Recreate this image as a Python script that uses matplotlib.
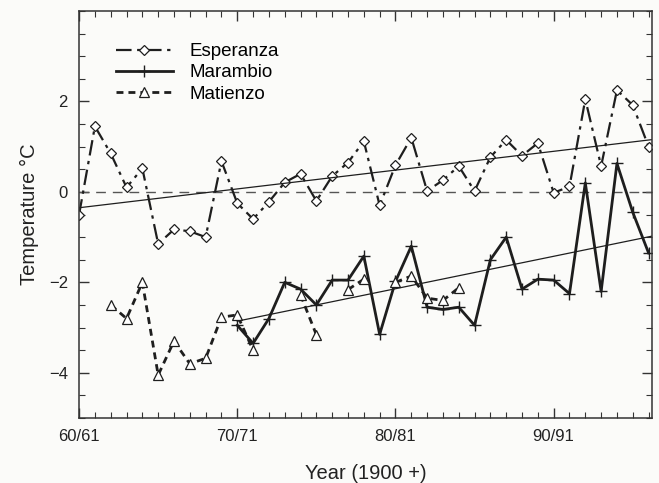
import numpy as np
import matplotlib
matplotlib.use("Agg")
import matplotlib.pyplot as plt
from matplotlib.ticker import MultipleLocator, FixedLocator

plt.rcParams['font.family'] = ['Liberation Sans', 'DejaVu Sans']

# mean temperatures, seasons 1960/61 .. 1996/97 (x = year - 1900)
esp_years = np.arange(60, 97)
esperanza = [-0.5, 1.45, 0.85, 0.1, 0.52, -1.15, -0.83, -0.87, -1.0, 0.68,
             -0.25, -0.6, -0.22, 0.21, 0.4, -0.2, 0.35, 0.65, 1.12, -0.3,
             0.59, 1.2, 0.02, 0.26, 0.57, 0.02, 0.77, 1.15, 0.8, 1.08,
             -0.02, 0.12, 2.05, 0.57, 2.25, 1.92, 1.0]

mar_years = np.arange(70, 97)
marambio = [-2.95, -3.35, -2.8, -2.0, -2.15, -2.5, -1.95, -1.95, -1.42, -3.15,
            -1.98, -1.2, -2.55, -2.6, -2.55, -2.95, -1.5, -1.0, -2.15, -1.93,
            -1.95, -2.25, 0.2, -2.2, 0.63, -0.45, -1.35]

mat_years = np.arange(62, 85)
matienzo = [-2.5, -2.8, -2.0, -4.05, -3.3, -3.8, -3.68, -2.77, -2.72, -3.5,
            np.nan, np.nan, -2.28, -3.16, np.nan, -2.16, -1.93, np.nan,
            -2.0, -1.86, -2.35, -2.4, -2.12]

xmin, xmax = 60, 96.2
ink = '#1e1e1e'

fig = plt.figure(figsize=(6.59, 4.83), dpi=100, facecolor='#fbfbf9')
ax = fig.add_axes([0.12, 0.1346, 0.869, 0.8425], facecolor='#fbfbf9')

ax.axhline(0, color='#555555', lw=1.0, dashes=(7, 5))

ax.plot(esp_years, esperanza, color=ink, lw=1.6, dashes=(7, 2.5, 1.5, 2.5),
        marker='D', ms=5.5, mfc='white', mec=ink, mew=0.9, label='Esperanza')
ax.plot(mar_years, marambio, color=ink, lw=2.0, marker='+', ms=9, mew=1.0,
        label='Marambio')
ax.plot(mat_years, matienzo, color=ink, lw=2.0, dashes=(2.5, 1.8),
        marker='^', ms=7, mfc='white', mec=ink, mew=0.9, label='Matienzo')

# linear trends
for yrs, vals in [(esp_years, esperanza), (mar_years, marambio)]:
    k, b = np.polyfit(yrs, vals, 1)
    xx = np.array([yrs[0], xmax])
    ax.plot(xx, k * xx + b, color=ink, lw=0.9)

ax.set_xlim(xmin, xmax)
ax.set_ylim(-5, 4)
ax.xaxis.set_major_locator(FixedLocator([60, 70, 80, 90]))
ax.set_xticklabels(['60/61', '70/71', '80/81', '90/91'])
ax.xaxis.set_minor_locator(MultipleLocator(1))
ax.yaxis.set_major_locator(FixedLocator([-4, -2, 0, 2]))
ax.yaxis.set_minor_locator(MultipleLocator(0.5))
ax.tick_params(which='both', direction='in', top=True, right=True,
               color='#333333', labelsize=12, labelcolor='#222222')
ax.tick_params(which='major', length=7, width=1.0, pad=8)
ax.tick_params(which='minor', length=4, width=0.8)
for s in ax.spines.values():
    s.set_color('#333333')
    s.set_linewidth(1.1)

ax.set_xlabel('Year (1900 +)', fontsize=14.5, color='#222222', labelpad=14)
ax.set_ylabel('Temperature °C', fontsize=14.5, color='#222222', labelpad=7)

ax.legend(loc='upper left', bbox_to_anchor=(0.052, 0.94), borderaxespad=0,
          frameon=False, fontsize=13.5, handlelength=3.0, handletextpad=0.9,
          labelspacing=0.22)

fig.savefig('out.png', dpi=100, facecolor=fig.get_facecolor())
